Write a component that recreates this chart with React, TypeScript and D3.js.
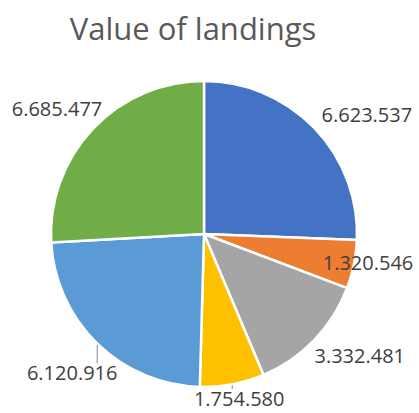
import React from "react";
import * as d3 from "d3";

const categories = ["A", "B", "C", "D", "E", "F"];
const values = [6623537, 1320546, 3332481, 1754580, 6120916, 6685477];
const labels = ["6.623.537", "1.320.546", "3.332.481", "1.754.580", "6.120.916", "6.685.477"];
const colors = ["#4472C4", "#ED7D31", "#A5A5A5", "#FFC000", "#5B9BD5", "#70AD47"];
const leaderSlices = [false, false, false, true, true, false];
const labelNudge: [number, number][] = [
  [10, 2],
  [0, -6],
  [3, 1],
  [-4, -7],
  [16, 14],
  [6, -5],
];

const W = 419;
const H = 413;
const cx = 204;
const cy = 234;
const R = 153;

export default function App() {
  const pie = d3
    .pie<number>()
    .sort(null)
    .value((d) => d)
    .startAngle(0)
    .endAngle(2 * Math.PI);
  const arcs = pie(values);
  const arc = d3.arc<d3.PieArcDatum<number>>().innerRadius(0).outerRadius(R);

  const halfW = 45;
  const halfH = 8;
  const dist = 175;

  return (
    <svg
      width={W}
      height={H}
      style={{ position: "absolute", left: 0, top: 0, background: "#fff" }}
    >
      <text
        x={193}
        y={40}
        textAnchor="middle"
        fontFamily="'Open Sans', sans-serif"
        fontSize={31}
        fill="#595959"
      >
        Value of landings
      </text>
      <g transform={`translate(${cx},${cy})`}>
        {arcs.map((a, i) => (
          <path
            key={categories[i]}
            d={arc(a) || ""}
            fill={colors[i]}
            stroke="#fff"
            strokeWidth={2.5}
            strokeLinejoin="round"
          />
        ))}
      </g>
      {arcs.map((a, i) => {
        const mid = (a.startAngle + a.endAngle) / 2;
        const ux = Math.sin(mid);
        const uy = -Math.cos(mid);
        let lx = cx + (dist + 37) * ux;
        let ly = cy + dist * uy;
        lx = Math.min(lx, W - 6 - halfW);
        lx = Math.max(lx, 6 + halfW);
        lx += labelNudge[i][0];
        ly += labelNudge[i][1];
        const ex = cx + R * ux;
        const ey = cy + R * uy;
        return (
          <g key={"l" + i}>
            {leaderSlices[i] && (
              <line
                x1={ex}
                y1={ey + 1}
                x2={ex}
                y2={ly - halfH - 2}
                stroke="#A6A6A6"
                strokeWidth={1.3}
              />
            )}
            <text
              x={lx}
              y={ly + 7}
              textAnchor="middle"
              fontFamily="'Open Sans', sans-serif"
              fontSize={20}
              fill="#404040"
            >
              {labels[i]}
            </text>
          </g>
        );
      })}
    </svg>
  );
}
